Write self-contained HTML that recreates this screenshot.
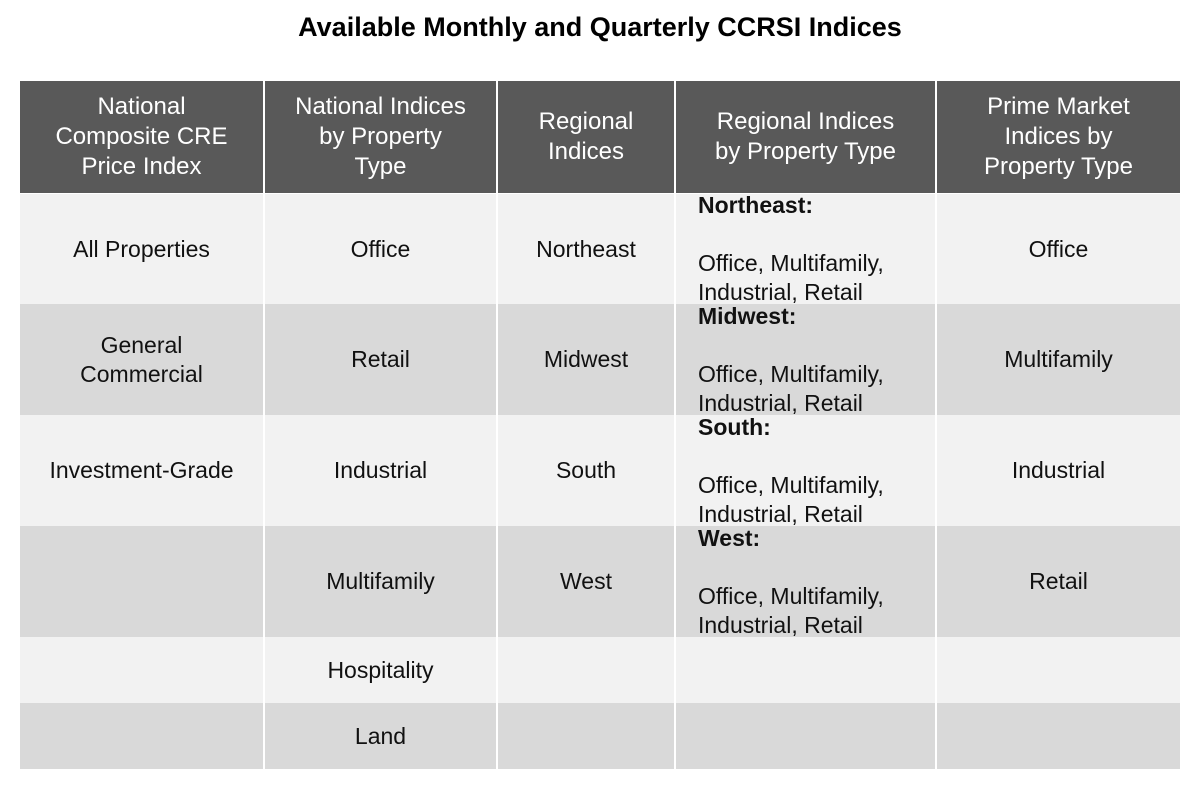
<!DOCTYPE html>
<html><head><meta charset="utf-8"><style>
body{margin:0;width:1200px;height:806px;background:#fff;font-family:"Liberation Sans",Arial,sans-serif;position:relative;overflow:hidden}
.t{position:absolute;left:0;width:1200px;top:12px;text-align:center;font-weight:bold;font-size:27px;color:#000}
.c{position:absolute;display:flex;flex-direction:column;justify-content:center;align-items:center;text-align:center;font-size:23px;line-height:29px;color:#111;box-sizing:border-box}
.h{background:#595959;color:#fff;font-size:24px;line-height:30px}
.l{align-items:flex-start;text-align:left;padding-left:22px}
.a{background:#f2f2f2}.b{background:#d9d9d9}
</style></head><body>
<div class="t">Available Monthly and Quarterly CCRSI Indices</div>
<div id="tbl"></div>
<script>
const cols=[20,265,498,676,937,1180];
const rows=[81,194,304,415,526,637,703,769];
const headers=["National<br>Composite CRE<br>Price Index","National Indices<br>by Property<br>Type","Regional<br>Indices","Regional Indices<br>by Property Type","Prime Market<br>Indices by<br>Property Type"];
const body=[
["All Properties","Office","Northeast","<b>Northeast:</b><br>Office, Multifamily,<br>Industrial, Retail","Office"],
["General<br>Commercial","Retail","Midwest","<b>Midwest:</b><br>Office, Multifamily,<br>Industrial, Retail","Multifamily"],
["Investment-Grade","Industrial","South","<b>South:</b><br>Office, Multifamily,<br>Industrial, Retail","Industrial"],
["","Multifamily","West","<b>West:</b><br>Office, Multifamily,<br>Industrial, Retail","Retail"],
["","Hospitality","","",""],
["","Land","","",""]];
const tb=document.getElementById('tbl');
function cell(r,c,html,cls,name){
 const d=document.createElement('div');
 d.className='c '+cls;
 d.style.left=cols[c]+'px';
 d.style.width=(cols[c+1]-cols[c]-(c<4?2:0))+'px';
 d.style.top=rows[r]+'px';
 d.style.height=(rows[r+1]-rows[r]-(r==0?1:0))+'px';
 d.innerHTML=html;
 
 
 tb.appendChild(d);
}
headers.forEach((h,c)=>cell(0,c,h,'h','header-cell'));
body.forEach((row,r)=>row.forEach((v,c)=>cell(r+1,c,v,(r%2==0?'a':'b')+(c==3?' l':''),'table-cell')));
</script>
</body></html>
